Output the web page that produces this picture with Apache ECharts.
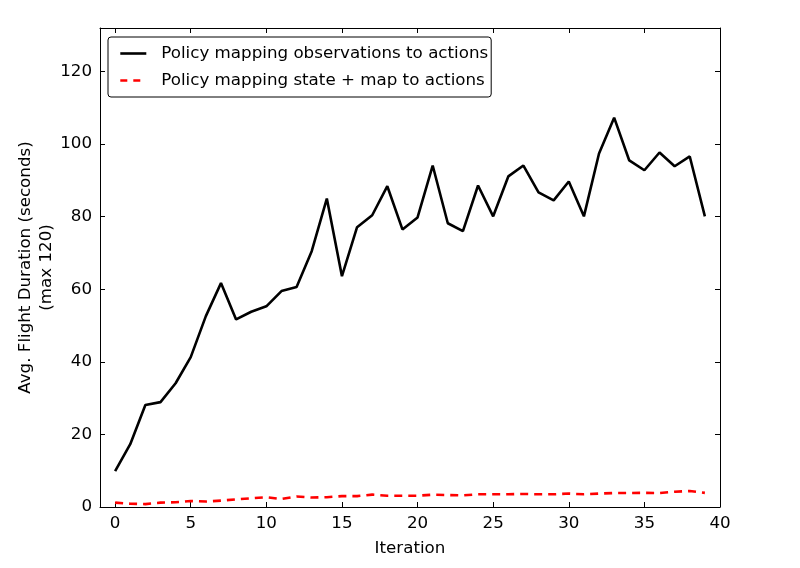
<!DOCTYPE html>
<html>
<head>
<meta charset="utf-8">
<script src="https://cdn.jsdelivr.net/npm/echarts@6/dist/echarts.min.js"></script>
<style>
  html, body { margin: 0; padding: 0; background: #fff; }
  #chart { width: 800px; height: 568px; }
</style>
</head>
<body>
<div id="chart"></div>
<script>
// iterations 0..39
var iterations = [0, 1, 2, 3, 4, 5, 6, 7, 8, 9, 10, 11, 12, 13, 14, 15, 16, 17, 18, 19,
                  20, 21, 22, 23, 24, 25, 26, 27, 28, 29, 30, 31, 32, 33, 34, 35, 36, 37, 38, 39];

// policy: observations -> actions
var obsPolicy = [9.9, 17.3, 28.1, 28.9, 34.1, 41.3, 52.6, 61.7, 51.7, 53.8,
                 55.3, 59.5, 60.6, 70.5, 85.0, 63.6, 77.1, 80.4, 88.4, 76.5,
                 79.8, 94.1, 78.2, 76.0, 88.6, 80.1, 91.1, 94.1, 86.7, 84.5,
                 89.7, 80.1, 97.4, 107.3, 95.5, 92.8, 97.7, 93.9, 96.6, 80.1];

// policy: state + map -> actions
var mapPolicy = [1.2, 0.9, 0.8, 1.2, 1.3, 1.65, 1.5, 1.75, 2.1, 2.4,
                 2.7, 2.2, 2.9, 2.6, 2.7, 3.0, 3.0, 3.4, 3.1, 3.1,
                 3.1, 3.4, 3.3, 3.2, 3.5, 3.5, 3.5, 3.6, 3.5, 3.5,
                 3.7, 3.5, 3.7, 3.85, 3.85, 3.9, 3.85, 4.2, 4.4, 3.9];

var seriesNames = ['Policy mapping observations to actions', 'Policy mapping state + map to actions'];

function pairs(ys) {
  return iterations.map(function (x, i) { return [x, ys[i]]; });
}

var font = 'DejaVu Sans';
var fs = 16.7;

function frameAxis(extra) {
  var base = {
    type: 'value',
    axisLine: { show: true, onZero: false, lineStyle: { color: '#000', width: 1 } },
    axisTick: { show: true, inside: true, length: 5, lineStyle: { color: '#000' } },
    splitLine: { show: false }
  };
  for (var k in extra) base[k] = extra[k];
  return base;
}

function xLabel(v) { return (v % 5 === 0 && v >= 0) ? String(v) : ''; }
function yLabel(v) { return (v % 20 === 0 && v <= 120) ? String(v) : ''; }

var chart = echarts.init(document.getElementById('chart'));

chart.setOption({
  animation: false,
  backgroundColor: '#fff',
  grid: { left: 100, right: 80, top: 28, bottom: 61 },
  legend: {
    orient: 'vertical',
    left: 108,
    top: 37,
    padding: [8, 3, 8, 11],
    itemGap: 10,
    itemWidth: 26,
    itemHeight: 14,
    borderColor: '#000',
    borderWidth: 1,
    borderRadius: 3,
    backgroundColor: '#fff',
    itemStyle: { opacity: 0 },
    textStyle: { color: '#000', fontFamily: font, fontSize: fs, padding: [0, 0, 0, 10] },
    data: [
      { name: seriesNames[0], lineStyle: { color: '#000', width: 2.6, type: 'solid' } },
      { name: seriesNames[1], lineStyle: { color: '#ff0000', width: 2.6, type: [7, 6] } }
    ]
  },
  xAxis: [
    frameAxis({
      min: -1, max: 40, splitNumber: 8,
      name: 'Iteration', nameLocation: 'middle', nameGap: 33, nameMoveOverlap: false,
      nameTextStyle: { color: '#000', fontFamily: font, fontSize: fs },
      axisLabel: { color: '#000', fontFamily: font, fontSize: fs, margin: 8, formatter: xLabel }
    }),
    frameAxis({
      position: 'top', min: -1, max: 40, splitNumber: 8,
      axisLabel: { show: false }
    })
  ],
  yAxis: [
    frameAxis({
      min: 0, max: 132, interval: 20,
      name: 'Avg. Flight Duration (seconds)\n(max 120)', nameLocation: 'middle', nameGap: 43,
      nameMoveOverlap: false,
      nameTextStyle: { color: '#000', fontFamily: font, fontSize: fs, lineHeight: 21 },
      axisLabel: { color: '#000', fontFamily: font, fontSize: fs, margin: 8, formatter: yLabel }
    }),
    frameAxis({
      position: 'right', min: 0, max: 132, interval: 20,
      axisLabel: { show: false }
    })
  ],
  series: [
    {
      name: seriesNames[0],
      type: 'line',
      data: pairs(obsPolicy),
      symbol: 'none',
      color: '#000',
      lineStyle: { color: '#000', width: 2.6 },
      z: 3
    },
    {
      name: seriesNames[1],
      type: 'line',
      data: pairs(mapPolicy),
      symbol: 'none',
      color: '#ff0000',
      lineStyle: { color: '#ff0000', width: 2.6, type: [8, 6] },
      z: 2
    }
  ]
});
</script>
</body>
</html>
